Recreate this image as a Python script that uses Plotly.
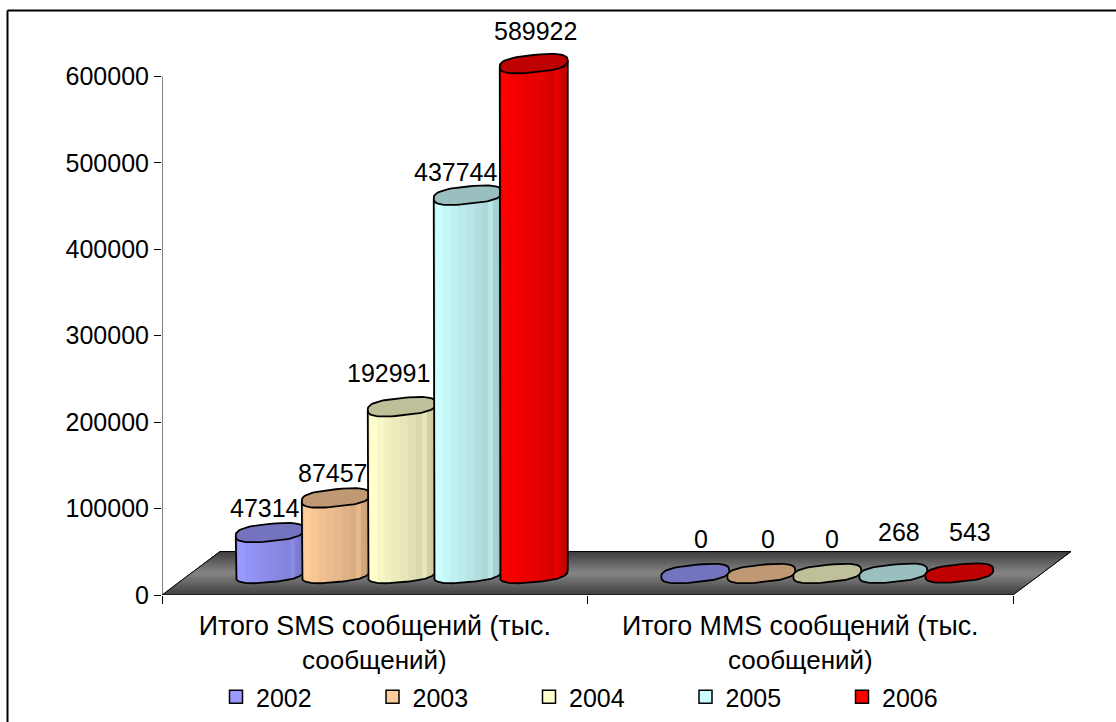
import math
import plotly.graph_objects as go

YEARS = ["2002", "2003", "2004", "2005", "2006"]
SMS = [47314, 87457, 192991, 437744, 589922]
MMS = [0, 0, 0, 268, 543]
CATEGORY_LINE1 = ["Итого SMS сообщений (тыс.", "Итого MMS сообщений (тыс."]
CATEGORY_LINE2 = ["сообщений)", "сообщений)"]
Y_TICKS = [0, 100000, 200000, 300000, 400000, 500000, 600000]
BODY_COLORS = [(153, 153, 255), (255, 204, 153), (255, 255, 204), (204, 255, 255), (255, 0, 0)]
SMS_LABEL_DX = [-5, -3, -13, -12, 2]
SMS_LABEL_DY = [25, 25, 34, 23, 33]
MMS_LABEL_DX = [6, 7, 5, 6, 11]
MMS_LABEL_DY = [35, 35, 35, 41, 41]

FONT = "Liberation Sans"
FS = 25
FS_CAT = 26
FS_CAT_TICK = 26.8
W, H = 1116, 722
L, R_PX, T, Y0_PX = 162, 1072, 20, 595.5
PX_PER_X = 425.5
PX_PER_100K = 86.5
xmax = (R_PX - L) / PX_PER_X
ymax = (Y0_PX - T) / PX_PER_100K * 100000


def dx(px):
    return px / PX_PER_X


def dy(px):
    return px / PX_PER_100K * 100000


def hexa(c, f=1.0):
    return "rgb(%d,%d,%d)" % tuple(max(0, min(255, round(v * f))) for v in c)


fig = go.Figure()


def poly(xs, ys, fill=None, line=None, lw=1.0):
    fig.add_trace(go.Scatter(
        x=xs, y=ys, mode="lines", hoverinfo="skip", showlegend=False,
        fill="toself" if fill else "none", fillcolor=fill,
        line=dict(color=line or fill or "black", width=lw),
    ))


# floor: a dark slab with a vertical gradient, painted as nested bands so no seams show
FLOOR_TOP = dy(43.5)
FLOOR_SHIFT = dx(58)
N_BANDS = 22
for i in range(N_BANDS):
    a, b = i / N_BANDS, 1.0
    m = (i + 0.5) / N_BANDS
    g = 62 + (134 - 62) * (1 - abs(m - 0.5) * 2)
    col = "rgb(%d,%d,%d)" % (g, g, g)
    poly([FLOOR_SHIFT * a, 2 + FLOOR_SHIFT * a, 2 + FLOOR_SHIFT * b, FLOOR_SHIFT * b, FLOOR_SHIFT * a],
         [FLOOR_TOP * a, FLOOR_TOP * a, FLOOR_TOP * b, FLOOR_TOP * b, FLOOR_TOP * a], fill=col, lw=0)
poly([0, 2, 2 + FLOOR_SHIFT, FLOOR_SHIFT, 0], [0, 0, FLOOR_TOP, FLOOR_TOP, 0], line="black", lw=1)

# axes lines
poly([0, 0], [0, 600000], line="black", lw=1)

BASE = dy(Y0_PX - 574)
SPACING = dx(66)
DEPTH = dx(27)
A = dx(34)
B_PX = 8.7
TILT_PX = 3.2
SUPER = 2.7
STRIP_EDGES = [-1, -0.94, -0.72, -0.5, -0.3, -0.06, 0.2, 0.42, 0.6, 0.74, 0.86, 0.94, 1]
STRIP_SHADE = [0.93, 1.0, 0.97, 0.94, 0.92, 0.9, 0.875, 0.85, 0.9, 0.82, 0.8, 0.76]


def rim(u):
    return max(0.0, 1 - abs(u) ** SUPER) ** (1 / SUPER)


def lower_y(u):
    # lower rim height, in data units, relative to the ellipse centre (u = -1..1 across the width)
    return dy(-B_PX * rim(u) + TILT_PX * u)


def upper_y(u):
    return dy(B_PX * rim(u) + TILT_PX * u)


def ellipse(cx, cy, n=30):
    us = [math.copysign(abs(math.cos(math.pi * k / n)) ** (2 / SUPER), math.cos(math.pi * k / n)) for k in range(n + 1)]
    xs = [cx + A * u for u in us] + [cx + A * u for u in us[::-1]]
    ys = [cy + upper_y(u) for u in us] + [cy + lower_y(u) for u in us[::-1]]
    return xs, ys


def cylinder(cx, value, color):
    top = BASE + value
    # body strips
    if value > 2000:
        for i, s in enumerate(STRIP_SHADE):
            u0, u1 = STRIP_EDGES[i], 1.0
            us = [u0 + (u1 - u0) * j / 30 for j in range(31)]
            xs = [cx + A * u for u in us]
            ys = [BASE + lower_y(u) for u in us]
            xs2 = xs[::-1]
            ys2 = [top + lower_y(u) for u in us[::-1]]
            poly(xs + xs2 + xs[:1], ys + ys2 + ys[:1], fill=hexa(color, s), lw=0)
        us = [math.copysign(abs(math.sin(math.pi * j / 80)) ** (2 / SUPER), math.sin(math.pi * j / 80)) for j in range(-40, 41)]
        ox = [cx + A * u for u in us]
        oy = [BASE + lower_y(u) for u in us]
        poly([cx - A] + ox + [cx + A], [top + lower_y(-1)] + oy + [top + lower_y(1)], line="black", lw=1.8)
    ex, ey = ellipse(cx, top)
    poly(ex, ey, fill=hexa(color, 0.75), line="black", lw=1.8)


annotations = []
for g, (vals, ldx, ldy) in enumerate([(SMS, SMS_LABEL_DX, SMS_LABEL_DY), (MMS, MMS_LABEL_DX, MMS_LABEL_DY)]):
    center = g + 0.5 + DEPTH
    for i, v in enumerate(vals):
        cx = center + (i - 2) * SPACING
        cylinder(cx, v, BODY_COLORS[i])
        annotations.append(dict(x=cx, y=BASE + v, xref="x", yref="y", text=str(v), showarrow=False,
                                xshift=ldx[i], yshift=ldy[i], xanchor="center", yanchor="middle",
                                font=dict(family=FONT, size=FS, color="black")))
    annotations.append(dict(x=g + 0.5, y=0, xref="x", yref="y", text=CATEGORY_LINE2[g], showarrow=False,
                            yshift=-65, xanchor="center", yanchor="middle",
                            font=dict(family=FONT, size=FS_CAT, color="black")))

# legend entries
for y, c in zip(YEARS, BODY_COLORS):
    fig.add_trace(go.Scatter(
        x=[None], y=[None], mode="markers", name=y,
        marker=dict(symbol="square", size=13, color=hexa(c), line=dict(color="black", width=1.5)),
    ))

px = lambda v: (v - L) / (R_PX - L)
py = lambda v: 1 - (v - T) / (Y0_PX - T)
frame = dict(type="line", xref="paper", yref="paper", line=dict(color="black", width=2))
shapes = [
    dict(frame, x0=px(7.5), x1=px(7.5), y0=py(10.5), y1=py(730)),
    dict(frame, x0=px(7.5), x1=px(1125), y0=py(10.5), y1=py(10.5)),
]

fig.update_layout(
    width=W, height=H, paper_bgcolor="white", plot_bgcolor="white",
    margin=dict(l=L, r=W - R_PX, t=T, b=H - Y0_PX, pad=0, autoexpand=False),
    font=dict(family=FONT, size=FS, color="black"),
    xaxis=dict(range=[0, xmax], showgrid=False, zeroline=False, showline=False,
               tickmode="array", tickvals=[0.5, 1.5], ticktext=CATEGORY_LINE1, ticks="",
               ticklabelstandoff=12, tickangle=0, tickfont=dict(size=FS_CAT_TICK), automargin=False,
               minor=dict(tickmode="array", tickvals=[0, 1, 2], ticks="outside", ticklen=8,
                          tickcolor="black", tickwidth=1, showgrid=False)),
    yaxis=dict(range=[0, ymax], showgrid=False, zeroline=False, showline=False, automargin=False,
               tickmode="array", tickvals=Y_TICKS, ticktext=[str(v) for v in Y_TICKS],
               ticks="outside", ticklen=7, tickcolor="black", tickwidth=1),
    legend=dict(orientation="h", x=216 / W, xanchor="left", y=1 - 697 / H, yanchor="middle",
                xref="container", yref="container", entrywidth=111.5, entrywidthmode="pixels",
                itemwidth=30, bgcolor="rgba(0,0,0,0)", font=dict(family=FONT, size=FS)),
    annotations=annotations, shapes=shapes, hovermode=False,
)
fig.write_html("out.html", post_script="document.body.style.margin='0';", config={"displayModeBar": False})
